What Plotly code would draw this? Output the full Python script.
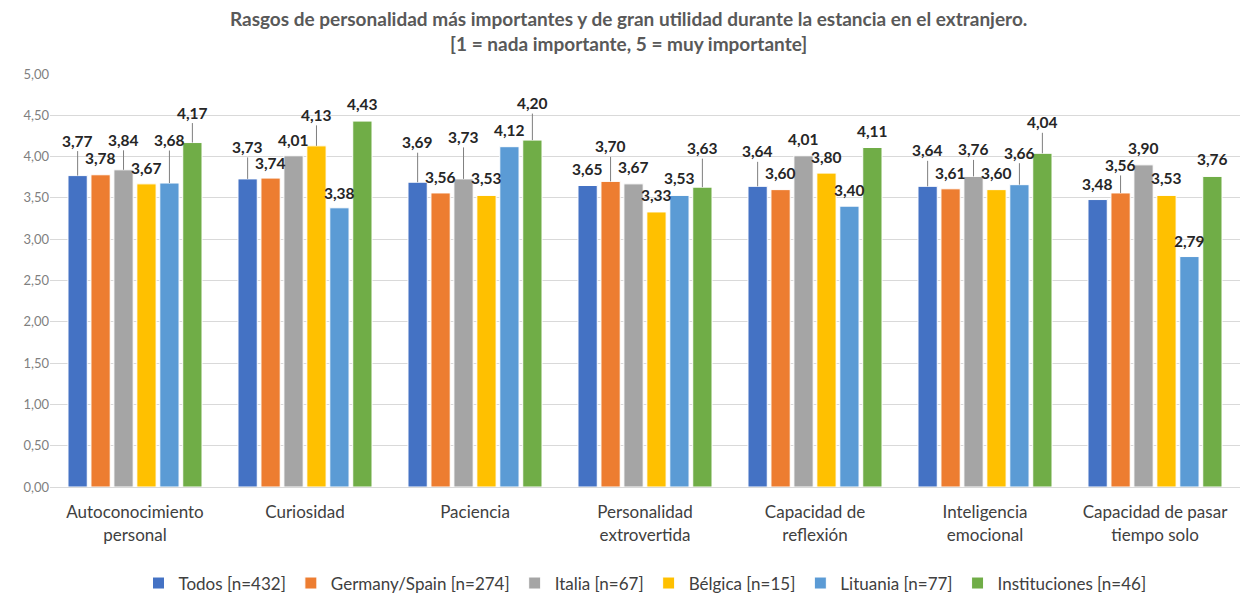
import plotly.graph_objects as go

categories = ["Autoconocimiento<br>personal", "Curiosidad", "Paciencia", "Personalidad<br>extrovertida",
              "Capacidad de<br>reflexión", "Inteligencia<br>emocional", "Capacidad de pasar<br>tiempo solo"]
series_names = ["Todos [n=432]", "Germany/Spain [n=274]", "Italia [n=67]", "Bélgica [n=15]",
                "Lituania [n=77]", "Instituciones [n=46]"]
todos = [3.77, 3.73, 3.69, 3.65, 3.64, 3.64, 3.48]
germany_spain = [3.78, 3.74, 3.56, 3.70, 3.60, 3.61, 3.56]
italia = [3.84, 4.01, 3.73, 3.67, 4.01, 3.76, 3.90]
belgica = [3.67, 4.13, 3.53, 3.33, 3.80, 3.60, 3.53]
lituania = [3.68, 3.38, 4.12, 3.53, 3.40, 3.66, 2.79]
instituciones = [4.17, 4.43, 4.20, 3.63, 4.11, 4.04, 3.76]
series_values = [todos, germany_spain, italia, belgica, lituania, instituciones]
y_tick_vals = [0, 0.5, 1, 1.5, 2, 2.5, 3, 3.5, 4, 4.5, 5]

# style: colours and label raise (pixels above bar top) per series/category
colors = ["#4472C4", "#ED7D31", "#A5A5A5", "#FFC000", "#5B9BD5", "#70AD47"]
label_raise = [
    [35, 32, 40, 17, 35, 36, 16],
    [17, 15, 16, 35, 17, 16, 28],
    [30, 16, 42, 17, 17, 27, 17],
    [16, 31, 17, 17, 16, 17, 17],
    [43, 15, 17, 17, 16, 32, 16],
    [30, 17, 37, 39, 17, 31, 17],
]

W, H = 1244, 596
ml, mr, mt, mb = 50, 4, 74, 109
bargap, bargroupgap = 0.19, 0.16
plot_w = W - ml - mr
plot_h = H - mt - mb
cat_w = plot_w / len(categories)
slot = cat_w * (1 - bargap) / len(series_names)
FONT = "Lato, Noto Sans, sans-serif"

fig = go.Figure()
for name, vals, col in zip(series_names, series_values, colors):
    fig.add_trace(go.Bar(x=categories, y=vals, name=name, marker_color=col,
                         marker_line=dict(color="white", width=1)))

annotations = []
for i, (vals, raises) in enumerate(zip(series_values, label_raise)):
    xs = (i - (len(series_names) - 1) / 2) * slot
    for c, v, r in zip(categories, vals, raises):
        line = r > 22
        annotations.append(dict(
            x=c, y=v, xref="x", yref="y", xshift=xs,
            text=f"{v:.2f}".replace(".", ","),
            showarrow=True, ax=0, ay=-r, axref="pixel", ayref="pixel",
            arrowhead=0, arrowwidth=1, standoff=0, startstandoff=0,
            arrowcolor="#7f7f7f" if line else "rgba(0,0,0,0)",
            font=dict(family=FONT, size=15.5, color="#262626", weight="bold"),
        ))

annotations.append(dict(
    text="<b>Rasgos de personalidad más importantes y de gran utilidad durante la estancia en el extranjero.</b><br><b>[1 = nada importante, 5 = muy importante]</b>",
    xref="paper", yref="paper", x=0.486, y=1 + 43 / plot_h, xanchor="center", yanchor="middle",
    showarrow=False, font=dict(family=FONT, size=19, color="#595959"), align="center",
))

fig.update_layout(
    width=W, height=H,
    margin=dict(l=ml, r=mr, t=mt, b=mb, autoexpand=False),
    paper_bgcolor="white", plot_bgcolor="white",
    separators=",.",
    barmode="group", bargap=bargap, bargroupgap=bargroupgap,
    font=dict(family=FONT, color="#404040"),
    xaxis=dict(showgrid=False, showline=True, linecolor="#d9d9d9", linewidth=1, automargin=False,
               tickfont=dict(size=17, color="#404040"), ticks="", ticklabelstandoff=10),
    yaxis=dict(range=[0, 5], tickvals=y_tick_vals, tickformat=".2f", showgrid=True, automargin=False,
               gridcolor="#d9d9d9", gridwidth=1, zeroline=False,
               tickfont=dict(size=13, color="#7f7f7f"), ticks=""),
    legend=dict(orientation="h", x=0.5, xanchor="center", y=-0.19, yanchor="top",
                font=dict(size=17, color="#404040"), itemwidth=30, traceorder="normal"),
    annotations=annotations,
)

fig.write_html("out.html", config={"displayModeBar": False},
               post_script="document.body.style.margin='0';document.body.style.padding='0';")
